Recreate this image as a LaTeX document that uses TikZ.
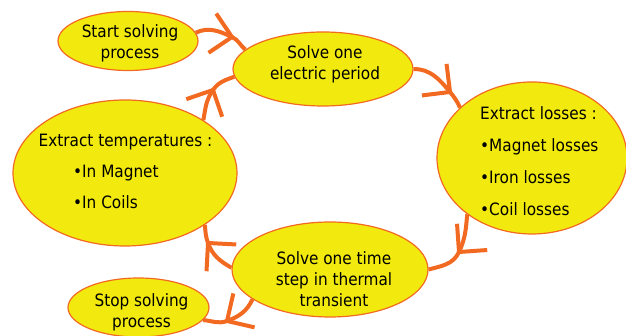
\documentclass[tikz,border=0pt]{standalone}
\usepackage{fontspec}
\setmainfont{DejaVu Sans Condensed}
\usetikzlibrary{shapes.geometric}
\definecolor{elfill}{RGB}{242,234,14}
\definecolor{orng}{RGB}{242,106,33}
\tikzset{
  bub/.style={ellipse, draw=orng, line width=1.2pt, fill=elfill, inner sep=0pt},
  txt/.style={font=\fontsize{17}{21}\selectfont, text=black, inner sep=0pt, align=center},
  lst/.style={font=\fontsize{17}{#1}\selectfont, text=black, inner sep=0pt, align=left, anchor=west},
  flow/.style={draw=orng, line width=4pt},
  chev/.pic={\draw[orng, line width=4pt, line cap=butt, line join=miter] (-20pt,20pt) -- (0pt,0pt) -- (-20pt,-20pt);},
}
\begin{document}
\begin{tikzpicture}[x=1pt,y=1pt]
\useasboundingbox (0,0) rectangle (626,336);
% ellipses
\node[bub, minimum width=140pt, minimum height=59pt] (S) at (128,295) {};
\node[bub, minimum width=180pt, minimum height=74pt] (E) at (323,267) {};
\node[bub, minimum width=190pt, minimum height=152pt] (L) at (532,178) {};
\node[bub, minimum width=224pt, minimum height=146pt] (T) at (125,163) {};
\node[bub, minimum width=196pt, minimum height=95pt] (ST) at (330,66.5) {};
\node[bub, minimum width=141pt, minimum height=59pt] (P) at (138.5,28.5) {};
% texts
\node[txt] (tS) at (130,292.5) {Start solving\\process};
\node[txt] (tE) at (325,271.5) {Solve one\\electric period};
\node[lst=32] (tL) at (480,175.25) {Extract losses :\\•Magnet losses\\•Iron losses\\•Coil losses};
\node[txt] (tT) at (125.5,194.25) {Extract temperatures :};
\node[lst=31] (tTb) at (73,148.75) {•In Magnet\\•In Coils};
\node[txt] (tST) at (334,57) {Solve one time\\step in thermal\\transient};
\node[txt] (tP) at (141.5,23.25) {Stop solving\\process};
% arrowhead points
\coordinate (hA) at (232,299);
\coordinate (hB) at (450,244);
\coordinate (hC) at (459,84);
\coordinate (hD) at (208,93);
\coordinate (hE) at (213,246);
\coordinate (hF) at (227,15);
% connectors
\draw[flow] (S.7) to[out=25,in=155] (hA) to[out=-25,in=140] (E.166);
\draw[flow] (E.0) to[out=0,in=130] (hB) to[out=-50,in=115] (L.145);
\draw[flow] (L.221) to[out=-95,in=65] (hC) to[out=-115,in=15] (ST.0);
\draw[flow] (ST.179) to[out=150,in=-70] (hD) to[out=110,in=-85] (T.-33);
\draw[flow] (T.34) to[out=80,in=-125] (hE) to[out=55,in=200] (E.185);
\draw[flow] (ST.201) to[out=-115,in=20] (hF) to[out=200,in=-5] (P.-11);
% arrowheads
\pic[rotate=-11] at (hA) {chev};
\pic[rotate=-38] at (hB) {chev};
\pic[rotate=229] at (hC) {chev};
\pic[rotate=132] at (hD) {chev};
\pic[rotate=64] at (hE) {chev};
\pic[rotate=212] at (hF) {chev};
\end{tikzpicture}
\end{document}
